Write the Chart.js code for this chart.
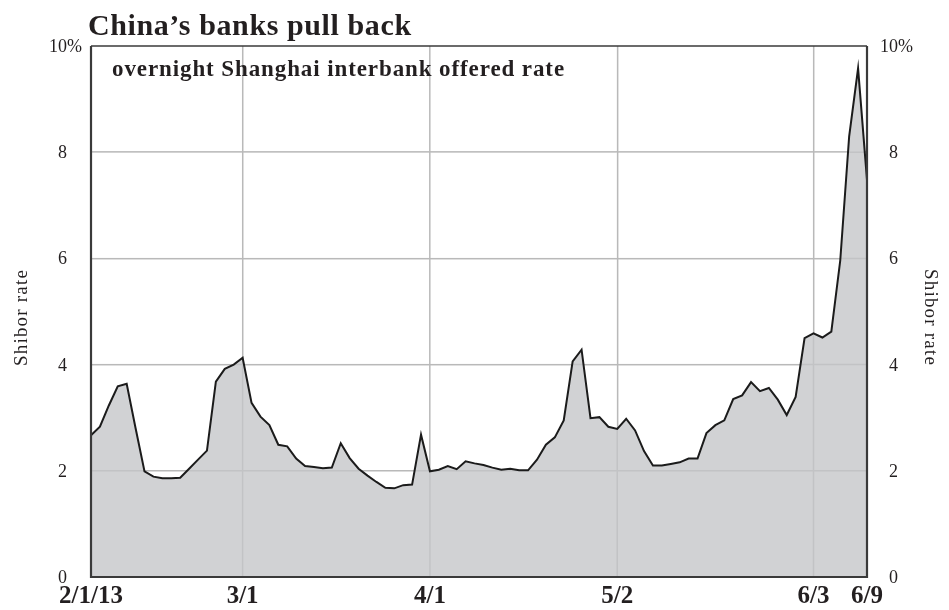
<!DOCTYPE html>
<html>
<head>
<meta charset="utf-8">
<script src="https://cdn.jsdelivr.net/npm/chart.js@4.4.1/dist/chart.umd.min.js"></script>
<style>
  body { margin: 0; background: #fff; }
</style>
</head>
<body>
<canvas id="chart" width="949" height="610"></canvas>
<script>
// trading days (Shibor fixings), 2013
const febDays = [1, 4, 5, 6, 7, 8, 16, 17, 18, 19, 20, 21, 22, 25, 26, 27, 28];
const marDays = [1, 4, 5, 6, 7, 8, 11, 12, 13, 14, 15, 18, 19, 20, 21, 22, 25, 26, 27, 28, 29];
const aprDays = [1, 2, 3, 7, 8, 9, 10, 11, 12, 15, 16, 17, 18, 19, 22, 23, 24, 25, 26, 27, 28];
const mayDays = [2, 3, 6, 7, 8, 9, 10, 13, 14, 15, 16, 17, 20, 21, 22, 23, 24, 27, 28, 29, 30, 31];
const junDays = [3, 4, 5, 6, 7, 8, 9];

// overnight Shibor, %
const shibor = [
  2.67, 2.83, 3.23, 3.59, 3.64, 2.80, 1.99, 1.89, 1.86, 1.86,
  1.87, 2.04, 2.21, 2.38, 3.68, 3.92, 4.00, 4.13, 3.28, 3.02,
  2.86, 2.49, 2.46, 2.23, 2.09, 2.07, 2.05, 2.06, 2.52, 2.24,
  2.04, 1.91, 1.79, 1.68, 1.67, 1.73, 1.74, 2.68, 1.99, 2.02,
  2.09, 2.03, 2.18, 2.14, 2.11, 2.06, 2.02, 2.04, 2.01, 2.01,
  2.21, 2.49, 2.63, 2.95, 4.06, 4.28, 2.99, 3.01, 2.83, 2.79,
  2.98, 2.76, 2.37, 2.10, 2.10, 2.13, 2.16, 2.23, 2.23, 2.71,
  2.86, 2.95, 3.35, 3.42, 3.67, 3.50, 3.56, 3.34, 3.05, 3.39,
  4.50, 4.59, 4.51, 4.62, 5.96, 8.30, 9.58, 7.48
];

// x tick labels shown on the axis
const tickDates = ["2/1", "3/1", "4/1", "5/2", "6/3", "6/9"];
const tickTexts = ["2/1/13", "3/1", "4/1", "5/2", "6/3", "6/9"];
// y ticks
const yTicks = [0, 2, 4, 6, 8, 10];

const dates = [];
[[2, febDays], [3, marDays], [4, aprDays], [5, mayDays], [6, junDays]].forEach(([m, days]) => {
  days.forEach((d) => dates.push(m + "/" + d));
});

const serif = "'Liberation Serif', 'Times New Roman', serif";
const ink = "#231f20";
const gridGrey = "#c8c8c8";

const tickIndex = (i) => tickDates.indexOf(dates[i]);

// titles, axis numbers, frame and faint grid over the fill
const decor = {
  id: "decor",
  afterDatasetDraw(chart, args) {
    if (args.index !== 1) return;
    const { ctx, chartArea: a, scales } = chart;
    ctx.save();
    ctx.strokeStyle = "rgba(0,0,0,0.07)";
    ctx.lineWidth = 1.5;
    ctx.beginPath();
    dates.forEach((d, i) => {
      if (tickIndex(i) > 0 && i < dates.length - 1) {
        const x = scales.x.getPixelForValue(i);
        ctx.moveTo(x, a.top);
        ctx.lineTo(x, a.bottom);
      }
    });
    yTicks.forEach((v) => {
      if (v > 0 && v < 10) {
        const y = scales.y.getPixelForValue(v);
        ctx.moveTo(a.left, y);
        ctx.lineTo(a.right, y);
      }
    });
    ctx.stroke();
    ctx.restore();
  },
  afterDraw(chart) {
    const { ctx, chartArea: a, scales } = chart;
    ctx.save();
    // frame
    ctx.strokeStyle = "#3a3a3a";
    ctx.lineWidth = 1.5;
    ctx.beginPath();
    ctx.moveTo(a.left, a.top);
    ctx.lineTo(a.right, a.top);
    ctx.stroke();
    ctx.lineWidth = 2.2;
    ctx.beginPath();
    ctx.moveTo(a.left, a.top);
    ctx.lineTo(a.left, a.bottom);
    ctx.lineTo(a.right, a.bottom);
    ctx.lineTo(a.right, a.top);
    ctx.stroke();

    ctx.fillStyle = ink;
    // title
    ctx.font = "bold 30px " + serif;
    ctx.letterSpacing = "0.6px";
    ctx.textAlign = "left";
    ctx.textBaseline = "alphabetic";
    ctx.fillText("China\u2019s banks pull back", 88, 35);
    // subtitle inside the plot
    ctx.font = "bold 23px " + serif;
    ctx.letterSpacing = "0.9px";
    ctx.fillText("overnight Shanghai interbank offered rate", 112, 76);

    // y tick numbers, % hangs past the digits
    ctx.font = "18px " + serif;
    ctx.letterSpacing = "0px";
    yTicks.forEach((v) => {
      const y = scales.y.getPixelForValue(v) + 6;
      [67, 898].forEach((x) => {
        ctx.textAlign = "right";
        ctx.fillText(String(v), x, y);
        if (v === 10) {
          ctx.textAlign = "left";
          ctx.fillText("%", x, y);
        }
      });
    });

    // axis titles
    const mid = (a.top + a.bottom) / 2 + 6;
    ctx.font = "19px " + serif;
    ctx.letterSpacing = "1.2px";
    ctx.textAlign = "center";
    ctx.textBaseline = "middle";
    ctx.save();
    ctx.translate(22, mid);
    ctx.rotate(-Math.PI / 2);
    ctx.fillText("Shibor rate", 0, 0);
    ctx.restore();
    ctx.save();
    ctx.translate(930, mid);
    ctx.rotate(Math.PI / 2);
    ctx.fillText("Shibor rate", 0, 0);
    ctx.restore();
    ctx.restore();
  }
};

new Chart(document.getElementById("chart"), {
  type: "line",
  plugins: [decor],
  data: {
    labels: dates,
    datasets: [
      {
        // the black line
        data: shibor,
        borderColor: "#1b1b1b",
        borderWidth: 2,
        fill: false,
        pointRadius: 0,
        tension: 0,
        order: 0
      },
      {
        // the grey area
        data: shibor,
        backgroundColor: "#d1d2d4",
        borderWidth: 0,
        fill: "origin",
        pointRadius: 0,
        tension: 0,
        order: 1
      }
    ]
  },
  options: {
    responsive: false,
    animation: false,
    layout: { padding: { top: 46, left: 0, right: 0, bottom: 0 } },
    plugins: {
      legend: { display: false },
      tooltip: { enabled: false }
    },
    scales: {
      x: {
        type: "category",
        offset: false,
        border: { display: false },
        grid: {
          offset: false,
          drawTicks: false,
          lineWidth: 1.5,
          color: (c) => {
            const k = tickIndex(c.index);
            return k > 0 && c.index < dates.length - 1 ? gridGrey : "rgba(0,0,0,0)";
          }
        },
        ticks: {
          autoSkip: false,
          maxRotation: 0,
          padding: 5,
          color: ink,
          font: { family: serif, size: 25, weight: "bold" },
          callback: (v, i) => {
            const k = tickIndex(i);
            return k >= 0 ? tickTexts[k] : "";
          }
        },
        afterFit: (s) => { s.height = 33; }
      },
      y: {
        position: "left",
        min: 0,
        max: 10,
        border: { display: false },
        grid: {
          drawTicks: false,
          lineWidth: 1.5,
          color: (c) => (c.tick.value > 0 && c.tick.value < 10 ? gridGrey : "rgba(0,0,0,0)")
        },
        ticks: { stepSize: 2, display: false },
        afterFit: (s) => { s.width = 91; }
      },
      y2: {
        position: "right",
        min: 0,
        max: 10,
        border: { display: false },
        grid: { display: false },
        ticks: { stepSize: 2, display: false },
        afterFit: (s) => { s.width = 82; }
      }
    }
  }
});
</script>
</body>
</html>
